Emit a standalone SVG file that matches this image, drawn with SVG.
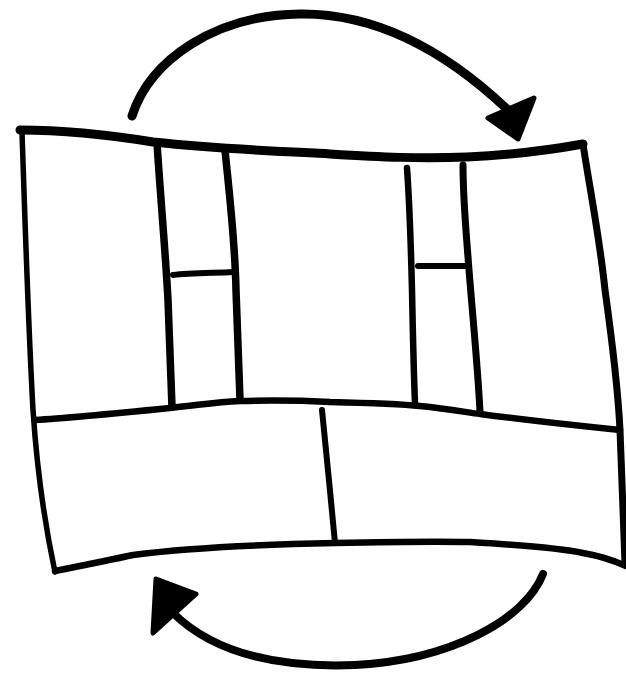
<svg xmlns="http://www.w3.org/2000/svg" width="626" height="676" viewBox="0 0 626 676">
<style>
.ln{fill:none;stroke:#000;stroke-linecap:round;stroke-linejoin:round}
.head{fill:#000;stroke:#000;stroke-width:5;stroke-linejoin:round}
</style>
<rect width="626" height="676" fill="#fff"/>
<g id="canvas">
<path id="top-edge" class="ln" stroke-width="9" d="M20,130 C60,130 110,135 153,142 C230,150 300,152 330,154 C380,157 420,159 467,157 C510,155 550,150 583,144"/>
<path id="right-edge" class="ln" stroke-width="7" d="M583,144 C590,190 600,240 605,290 C612,340 618,390 620,430 C622,480 624,530 625,563"/>
<path id="left-edge" class="ln" stroke-width="5.5" d="M22,132 C25,220 28,320 33,410 C37,470 46,530 55,572"/>
<path id="bottom-edge" class="ln" stroke-width="6.5" d="M55,571 C80,566 110,560 133,555 C170,550 240,545 335,543 C380,542 430,541 470,542 C520,545 560,548 583,553 C600,556 615,561 626,566"/>
<path id="middle-edge" class="ln" stroke-width="6.5" d="M35,420 C70,418 130,412 170,408 C200,405 215,402 240,401 C280,400 310,401 330,402 C370,403 400,404 420,406 C450,409 470,413 480,414 C510,418 560,424 620,430"/>
</g>
<g id="cell-key-partners-split">
<path class="ln" stroke-width="7.5" d="M157,143 C160,190 166,260 168,300 C170,350 171,380 172,407"/>
<path class="ln" stroke-width="7.5" d="M225,150 C230,200 235,240 236,290 C238,340 239,380 240,400"/>
<path class="ln" stroke-width="6" d="M173,275 C190,273 215,273 233,272"/>
</g>
<g id="cell-right-split">
<path class="ln" stroke-width="6.5" d="M407,168 C410,210 411,250 412,290 C413,340 414,380 415,403"/>
<path class="ln" stroke-width="7" d="M463,165 C463,200 466,230 469,270 C473,320 478,370 480,412"/>
<path class="ln" stroke-width="6" d="M418,266 C435,266 450,266 465,266"/>
</g>
<g id="cell-bottom-split">
<path class="ln" stroke-width="6" d="M322,410 C326,450 331,500 335,543"/>
</g>
<g id="connectors">
<path class="ln" stroke-width="9" d="M132,116 C150,60 215,15 300,14 C380,13 450,55 508,110"/>
<polygon class="head" points="488,118 534,98 518,139"/>
<path class="ln" stroke-width="8" d="M543,574 C525,620 450,660 355,665 C280,668 215,655 172,612"/>
<polygon class="head" points="156,579 196,594 153,633"/>
</g>
</svg>
